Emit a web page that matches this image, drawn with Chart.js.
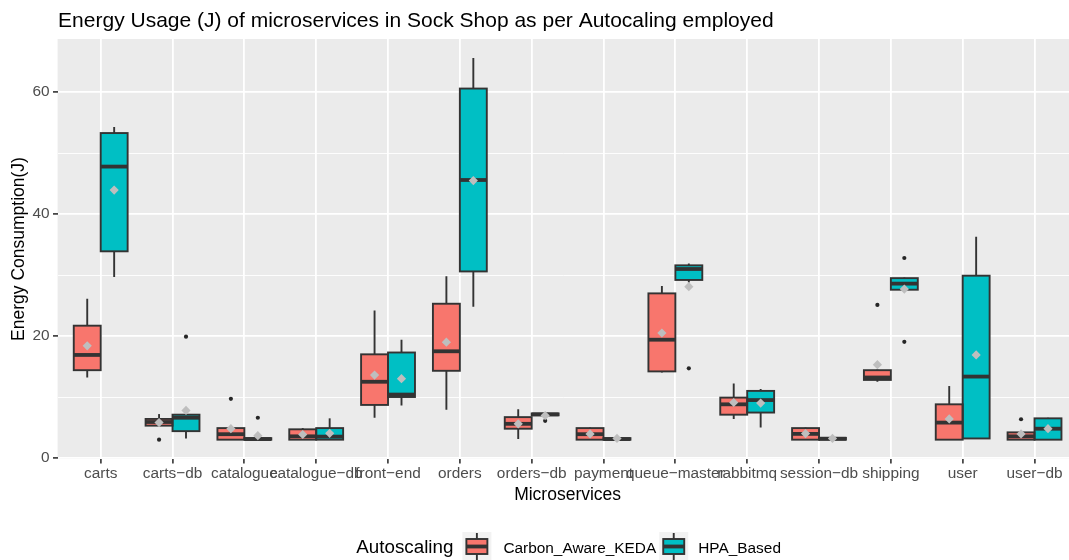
<!DOCTYPE html>
<html>
<head>
<meta charset="utf-8">
<title>Energy Usage (J) of microservices in Sock Shop</title>
<script src="https://cdn.jsdelivr.net/npm/chart.js@4"></script>
<style>
  html, body { margin: 0; padding: 0; background: #ffffff; overflow: hidden; }
  canvas { display: block; }
</style>
</head>
<body>
<canvas id="energyChart" width="1069" height="560"></canvas>
<script>
const FONT = '"Liberation Sans", Arial, Helvetica, sans-serif';

const chartTitle = 'Energy Usage (J) of microservices in Sock Shop as per Autocaling employed';
const xAxisTitle = 'Microservices';
const yAxisTitle = 'Energy Consumption(J)';
const legendTitle = 'Autoscaling';

const services = ['carts', 'carts\u2212db', 'catalogue', 'catalogue\u2212db', 'front\u2212end', 'orders',
  'orders\u2212db', 'payment', 'queue\u2212master', 'rabbitmq', 'session\u2212db', 'shipping', 'user', 'user\u2212db'];
const groupNames = ['Carbon_Aware_KEDA', 'HPA_Based'];
const groupColors = ['#F8766D', '#00BFC4'];

const yTickValues = [0, 10, 20, 30, 40, 50, 60];
const yLabelStep = 20;

// Carbon_Aware_KEDA: five-number summaries, means and outlying runs (J)
const kedaLow      = [13.2, 5.3, 3.0, 3.0, 6.6, 7.9, 3.1, 3.0, 14.0, 6.4, 3.0, 12.5, 3.0, 3.0];
const kedaQ1       = [14.4, 5.3, 3.0, 3.0, 8.7, 14.3, 4.8, 3.0, 14.2, 7.1, 3.0, 12.8, 3.0, 3.0];
const kedaMedian   = [16.9, 5.9, 3.9, 3.55, 12.5, 17.5, 5.6, 3.9, 19.4, 8.8, 3.95, 13.2, 5.8, 3.55];
const kedaQ3       = [21.7, 6.4, 4.9, 4.7, 17.0, 25.3, 6.7, 4.9, 27.0, 9.9, 4.9, 14.4, 8.8, 4.2];
const kedaHigh     = [26.1, 7.2, 5.0, 4.9, 24.2, 29.8, 8.0, 5.0, 28.2, 12.2, 5.0, 14.5, 11.8, 4.3];
const kedaMean     = [18.4, 5.8, 4.8, 3.85, 13.6, 19.0, 5.6, 3.95, 20.5, 9.1, 4.0, 15.3, 6.4, 3.95];
const kedaOutliers = [[], [3.0], [9.7], [], [], [], [], [], [], [], [], [25.1], [], [6.35]];

// HPA_Based: five-number summaries, means and outlying runs (J)
const hpaLow      = [29.7, 3.2, 3.0, 3.0, 8.6, 24.8, 7.0, 3.0, 28.8, 5.0, 3.0, 27.4, 3.1, 3.0];
const hpaQ1       = [33.9, 4.4, 3.0, 3.0, 10.0, 30.6, 7.0, 3.0, 29.2, 7.45, 3.0, 27.6, 3.2, 3.0];
const hpaMedian   = [47.8, 6.6, 3.1, 3.5, 10.4, 45.6, 7.15, 3.1, 31.0, 9.5, 3.15, 28.6, 13.35, 4.8];
const hpaQ3       = [53.3, 7.1, 3.25, 4.9, 17.3, 60.6, 7.3, 3.25, 31.6, 11.0, 3.3, 29.5, 29.9, 6.5];
const hpaHigh     = [54.3, 7.1, 3.3, 6.5, 19.4, 65.6, 7.4, 3.3, 31.9, 11.3, 3.3, 29.6, 36.3, 6.6];
const hpaMean     = [43.95, 7.8, 3.65, 4.05, 13.0, 45.5, 6.95, 3.2, 28.1, 9.0, 3.2, 27.7, 16.9, 4.8];
const hpaOutliers = [[], [19.9], [6.6], [], [], [], [6.1], [], [14.7], [], [], [32.8, 19.05], [], []];

const stats = [
  { low: kedaLow, q1: kedaQ1, median: kedaMedian, q3: kedaQ3, high: kedaHigh, mean: kedaMean, outliers: kedaOutliers },
  { low: hpaLow, q1: hpaQ1, median: hpaMedian, q3: hpaQ3, high: hpaHigh, mean: hpaMean, outliers: hpaOutliers }
];

const INK = '#333333';
const BOX_LINE = 1.9;
const MEDIAN_LINE = 3.8;
const TICK_FONT = 15.4;
const AXIS_TITLE_FONT = 17.5;
// the discrete axis runs from 0.4 to n + 0.6; its middle centres the x title and legend
const xMid = (0.4 + services.length + 0.6) / 2;

// Draws the grey panel, whiskers, box outlines, medians, outliers, means, titles and legend.
const boxPlotLayer = {
  id: 'boxPlotLayer',
  beforeDraw(chart) {
    const { ctx, chartArea: a } = chart;
    ctx.save();
    ctx.fillStyle = '#ffffff';
    ctx.fillRect(0, 0, chart.width, chart.height);
    ctx.fillStyle = '#EBEBEB';
    ctx.fillRect(a.left, a.top, a.right - a.left, a.bottom - a.top);
    ctx.restore();
  },
  afterDatasetsDraw(chart) {
    const { ctx } = chart;
    const yScale = chart.scales.y;
    const py = v => yScale.getPixelForValue(v);
    ctx.save();
    const means = [];
    chart.data.datasets.forEach((ds, d) => {
      const s = stats[d];
      chart.getDatasetMeta(d).data.forEach((bar, i) => {
        const { x, width } = bar.getProps(['x', 'width'], true);
        const left = x - width / 2;
        const right = x + width / 2;
        ctx.strokeStyle = INK;
        ctx.lineCap = 'butt';
        ctx.lineWidth = BOX_LINE;
        ctx.beginPath();
        ctx.moveTo(x, py(s.q3[i]));
        ctx.lineTo(x, py(s.high[i]));
        ctx.moveTo(x, py(s.q1[i]));
        ctx.lineTo(x, py(s.low[i]));
        ctx.stroke();
        ctx.strokeRect(left, py(s.q3[i]), width, py(s.q1[i]) - py(s.q3[i]));
        ctx.lineWidth = MEDIAN_LINE;
        ctx.beginPath();
        ctx.moveTo(left, py(s.median[i]));
        ctx.lineTo(right, py(s.median[i]));
        ctx.stroke();
        ctx.fillStyle = '#262626';
        s.outliers[i].forEach(v => {
          ctx.beginPath();
          ctx.arc(x, py(v), 2.1, 0, Math.PI * 2);
          ctx.fill();
        });
        means.push([x, py(s.mean[i])]);
      });
    });
    ctx.fillStyle = '#BEBEBE';
    means.forEach(([x, y]) => {
      const r = 4.6;
      ctx.beginPath();
      ctx.moveTo(x, y - r);
      ctx.lineTo(x + r, y);
      ctx.lineTo(x, y + r);
      ctx.lineTo(x - r, y);
      ctx.closePath();
      ctx.fill();
    });
    ctx.restore();
  },
  afterDraw(chart) {
    const { ctx, chartArea: a } = chart;
    const centerX = chart.scales.x.getPixelForValue(xMid);
    ctx.save();
    // plot title
    ctx.fillStyle = '#000000';
    ctx.textAlign = 'left';
    ctx.textBaseline = 'alphabetic';
    ctx.font = '21px ' + FONT;
    ctx.fillText(chartTitle, a.left + 0.5, 27);

    // x axis title
    ctx.textAlign = 'center';
    ctx.font = AXIS_TITLE_FONT + 'px ' + FONT;
    ctx.fillText(xAxisTitle, centerX, 500);

    // legend: title, then one boxplot key per group
    ctx.textAlign = 'left';
    const titleFont = '18.8px ' + FONT;
    const itemFont = TICK_FONT + 'px ' + FONT;
    const key = 29;
    const gaps = [9, 12, 3, 10];
    ctx.font = titleFont;
    const wTitle = ctx.measureText(legendTitle).width;
    ctx.font = itemFont;
    const wItems = groupNames.map(n => ctx.measureText(n).width);
    const total = wTitle + gaps[0] + key + gaps[1] + wItems[0] + gaps[2] + key + gaps[3] + wItems[1];
    let x = centerX + 1 - total / 2;
    const keyTop = 532;
    const baseline = 553;
    ctx.font = titleFont;
    ctx.fillStyle = '#000000';
    ctx.fillText(legendTitle, x, baseline);
    x += wTitle + gaps[0];
    groupNames.forEach((name, d) => {
      ctx.fillStyle = '#F2F2F2';
      ctx.fillRect(x, keyTop, key, key);
      const cx = x + key / 2;
      const cy = keyTop + key / 2;
      ctx.strokeStyle = INK;
      ctx.lineWidth = BOX_LINE;
      ctx.beginPath();
      ctx.moveTo(cx, keyTop + 1);
      ctx.lineTo(cx, keyTop + key - 1);
      ctx.stroke();
      ctx.fillStyle = groupColors[d];
      ctx.fillRect(x + 4, keyTop + 7, key - 8, key - 14);
      ctx.strokeRect(x + 4, keyTop + 7, key - 8, key - 14);
      ctx.lineWidth = MEDIAN_LINE;
      ctx.beginPath();
      ctx.moveTo(x + 4, cy);
      ctx.lineTo(x + key - 4, cy);
      ctx.stroke();
      x += key + gaps[1 + d * 2];
      ctx.font = itemFont;
      ctx.fillStyle = '#000000';
      ctx.fillText(name, x, baseline);
      x += wItems[d] + gaps[2];
    });
    ctx.restore();
  }
};

new Chart(document.getElementById('energyChart'), {
  type: 'bar',
  data: {
    datasets: stats.map((s, d) => ({
      label: groupNames[d],
      data: services.map((_, i) => ({ x: i + 1, y: [s.q1[i], s.q3[i]] })),
      backgroundColor: groupColors[d],
      borderWidth: 0,
      categoryPercentage: 0.75,
      barPercentage: 1.0
    }))
  },
  options: {
    responsive: false,
    animation: false,
    events: [],
    devicePixelRatio: 1,
    layout: { padding: { top: 39, left: 0, right: 0, bottom: 0 } },
    plugins: {
      legend: { display: false },
      tooltip: { enabled: false },
      title: { display: false }
    },
    scales: {
      x: {
        type: 'linear',
        min: 0.4,
        max: services.length + 0.48,
        offset: false,
        afterBuildTicks: scale => { scale.ticks = services.map((_, i) => ({ value: i + 1 })); },
        afterFit: scale => { scale.height = 101; },
        border: { display: false },
        grid: {
          offset: false,
          color: '#ffffff',
          lineWidth: 1.8,
          drawTicks: true,
          tickLength: 4.6,
          tickColor: INK,
          tickWidth: 1.6
        },
        ticks: {
          autoSkip: false,
          maxRotation: 0,
          minRotation: 0,
          padding: 1,
          color: '#4D4D4D',
          font: { family: FONT, size: TICK_FONT },
          callback: v => services[v - 1]
        }
      },
      y: {
        min: -0.17,
        max: 68.73,
        afterBuildTicks: scale => { scale.ticks = yTickValues.map(v => ({ value: v })); },
        afterFit: scale => { scale.width = 57.6; },
        border: { display: false },
        grid: {
          color: '#ffffff',
          lineWidth: ctx => (ctx.tick && ctx.tick.value % yLabelStep === 0 ? 1.8 : 0.9),
          drawTicks: true,
          tickLength: 4.6,
          tickColor: ctx => (ctx.tick && ctx.tick.value % yLabelStep === 0 ? INK : 'rgba(0,0,0,0)'),
          tickWidth: 1.6
        },
        ticks: {
          padding: 3.5,
          color: '#4D4D4D',
          font: { family: FONT, size: TICK_FONT },
          callback: v => (v % yLabelStep === 0 ? String(v) : '')
        },
        title: {
          display: true,
          text: yAxisTitle,
          color: '#000000',
          font: { family: FONT, size: AXIS_TITLE_FONT },
          padding: { top: 9, bottom: 0 }
        }
      }
    }
  },
  plugins: [boxPlotLayer]
});
</script>
</body>
</html>
